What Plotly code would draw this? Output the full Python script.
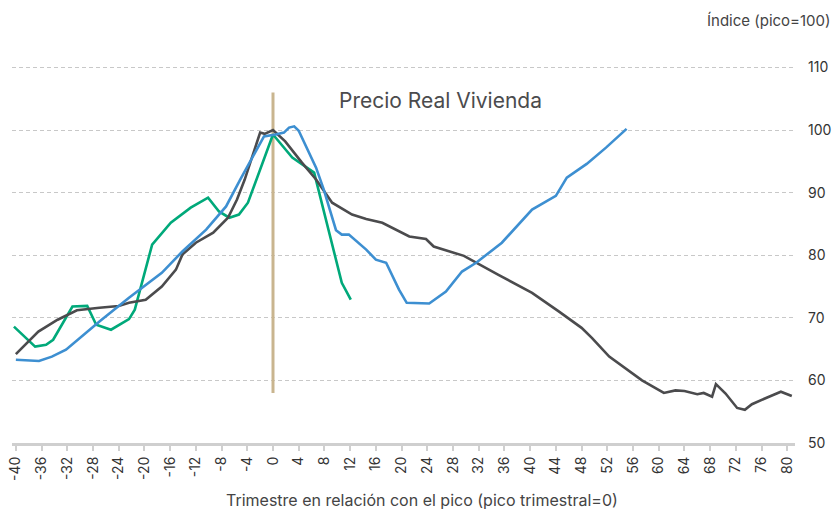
import plotly.graph_objects as go

# Gray series (quarters relative to peak, index peak=100)
gray_q = [-40, -36.5, -33.5, -30.5, -27, -24, -22.4, -19.8, -17.3, -15.1, -14.1, -12, -9.3, -7, -5.6, -4.4,
          -2, -1.3, 0, 1.9, 4.5, 6.7, 9.2, 12.3, 14.5, 17, 21.2, 23.8, 25, 29.7, 35, 40.3, 44.5, 48,
          49.6, 52.3, 57.4, 60.8, 62.6, 64, 66, 67, 68.3, 68.9, 70.4, 72.2, 73.4, 74.5, 76.7, 79, 80.7]
gray_v = [64.2, 67.8, 69.7, 71.2, 71.6, 71.9, 72.4, 72.9, 75.0, 77.7, 80.1, 82.0, 83.6, 86.0, 88.9, 92.1,
          99.6, 99.4, 100.0, 98.2, 94.8, 92.1, 88.4, 86.5, 85.8, 85.2, 83.0, 82.6, 81.4, 79.9, 76.9, 74.0, 71.0, 68.4,
          66.8, 63.8, 60.0, 58.0, 58.4, 58.3, 57.8, 58.0, 57.4, 59.4, 57.9, 55.6, 55.3, 56.2, 57.2, 58.2, 57.5]

# Blue series
blue_q = [-40, -36.4, -34.4, -32.2, -27, -22.4, -17.3, -14.1, -10.4, -7.3, -5.1, -3.7, -1.4, 0.4, 1.7, 2.5,
          3.3, 4, 6.7, 7.9, 9.8, 10.7, 11.8, 14.5, 16, 17.6, 19.6, 20.8, 24.3, 26.9, 29.4, 31.6, 33.6, 35.6,
          40.3, 44, 45.7, 48.8, 51.8, 55]
blue_v = [63.3, 63.1, 63.8, 64.9, 69.4, 73.2, 77.2, 80.6, 84.1, 87.8, 92.1, 94.8, 99.0, 99.3, 99.6, 100.4,
          100.6, 99.9, 94.0, 90.5, 84.0, 83.3, 83.3, 80.9, 79.3, 78.8, 74.5, 72.4, 72.3, 74.2, 77.4, 78.8, 80.4, 82.0,
          87.3, 89.5, 92.4, 94.6, 97.2, 100.2]

# Green series
green_q = [-40.3, -37, -35.3, -34.2, -31.2, -28.9, -27.5, -25.2, -22.4, -21.5, -18.8, -15.9, -12.8, -10.1,
           -8.4, -6.8, -5.3, -3.9, 0, 3, 6.4, 10.7, 12.1]
green_v = [68.6, 65.4, 65.7, 66.5, 71.8, 71.9, 68.9, 68.1, 69.8, 71.3, 81.7, 85.2, 87.6, 89.2,
           87.0, 86.0, 86.5, 88.4, 99.3, 95.6, 93.2, 75.6, 72.9]

# Peak reference line
peak_q = [0, 0]
peak_v = [58, 106]

x_ticks = list(range(-40, 81, 4))
y_ticks = [50, 60, 70, 80, 90, 100, 110]

FONT = "Inter, Roboto, sans-serif"

fig = go.Figure()
fig.add_trace(go.Scatter(x=peak_q, y=peak_v, mode="lines",
                         line=dict(color="#c9b58f", width=3), hoverinfo="skip", showlegend=False))
fig.add_trace(go.Scatter(x=green_q, y=green_v, mode="lines",
                         line=dict(color="#00a97a", width=2.6), showlegend=False))
fig.add_trace(go.Scatter(x=gray_q, y=gray_v, mode="lines",
                         line=dict(color="#4b4b4d", width=2.6), showlegend=False))
fig.add_trace(go.Scatter(x=blue_q, y=blue_v, mode="lines",
                         line=dict(color="#3d8fd1", width=2.6), showlegend=False))

fig.update_layout(
    width=834, height=510,
    margin=dict(l=12, r=39, t=55, b=67),
    plot_bgcolor="white", paper_bgcolor="white",
    font=dict(family=FONT, color="#333333"),
    xaxis=dict(range=[-40.6, 81.2], tickmode="array", tickvals=x_ticks, automargin=False,
               ticktext=[str(v) for v in x_ticks], tickangle=-90,
               tickfont=dict(size=14, color="#333333"),
               showgrid=False, zeroline=False,
               showline=True, linecolor="#cfcfcf", linewidth=3,
               ticks="outside", ticklen=5, tickwidth=2, tickcolor="#cfcfcf"),
    yaxis=dict(range=[50, 112], side="right", tickmode="array", tickvals=y_ticks, automargin=False,
               tickfont=dict(size=14, color="#333333"),
               showgrid=True, gridcolor="#c8c8c8", griddash="4px,3px", gridwidth=1,
               zeroline=False, showline=False, ticks="", ticklabelstandoff=12),
    annotations=[
        dict(text="Precio Real Vivienda", xref="paper", yref="paper", x=0.547, y=0.883,
             xanchor="center", yanchor="middle", showarrow=False,
             font=dict(size=21, color="#4b4b4d", family=FONT)),
        dict(text="Índice (pico=100)", xref="paper", yref="paper", x=1.049, y=1.09,
             xanchor="right", yanchor="middle", showarrow=False,
             font=dict(size=15, color="#444444", family=FONT)),
        dict(text="Trimestre en relación con el pico (pico trimestral=0)", xref="paper", yref="paper",
             x=0.524, y=-0.148, xanchor="center", yanchor="middle", showarrow=False,
             font=dict(size=16, color="#444444", family=FONT)),
    ],
)

fig.write_html("out.html", config={"displayModeBar": False},
               post_script="document.body.style.margin='0';")
